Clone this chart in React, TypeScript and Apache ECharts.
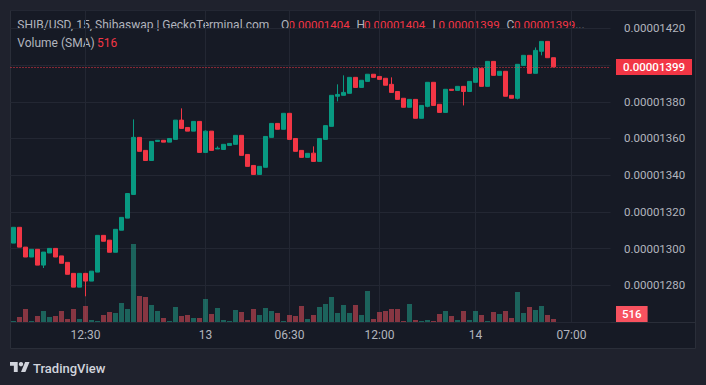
import React, { useEffect, useRef } from "react";
import * as echarts from "echarts";

// Prices in units of 1e-8 USD (0.00000001)
const opens = [
  1303, 1311.6, 1300.8, 1295.4, 1299.6, 1291, 1297.6, 1300.1, 1296, 1292.5,
  1286.5, 1279, 1286.5, 1282.3, 1287.2, 1307.2, 1304.6, 1298, 1310, 1316.6,
  1329.5, 1360.6, 1353.5, 1348, 1358.4, 1359, 1358, 1359.5, 1370, 1366,
  1364, 1369.3, 1352.4, 1364, 1354.3, 1354, 1356.2, 1356.8, 1361.7, 1351.3,
  1345.3, 1340.4, 1344.3, 1360.6, 1368.2, 1365, 1373.7, 1360, 1353.5, 1349.7,
  1352, 1347.5, 1359.5, 1366.6, 1383, 1383.5, 1384.6, 1393.3, 1387.8, 1391.1,
  1395, 1393.8, 1392.8, 1389.5, 1385.6, 1381.9, 1377, 1381.3, 1371, 1377.5,
  1390.6, 1378.6, 1374.2, 1386.8, 1386.2, 1388.4, 1385.6, 1390.6, 1398.2, 1388.4,
  1402, 1394.4, 1396.6, 1383.5, 1381.9, 1399.8, 1405.3, 1395.5, 1407.5, 1412.9,
  1404,
];
const closes = [
  1311.6, 1300.8, 1295.4, 1299.6, 1291, 1298.1, 1300.1, 1295.4, 1292, 1286,
  1279, 1286.5, 1282.3, 1287.7, 1307.2, 1304, 1298, 1310.5, 1317, 1330,
  1360.6, 1353, 1348, 1358.4, 1359, 1358, 1360, 1370, 1365.5, 1364,
  1369.3, 1352.4, 1364, 1353.5, 1354.7, 1356.8, 1357.3, 1361.7, 1350.8, 1344.8,
  1340.4, 1344.8, 1361.1, 1368.2, 1365, 1373.7, 1359.5, 1353, 1349.7, 1351.9,
  1347.5, 1360, 1367, 1383.5, 1384, 1385.1, 1393.3, 1387.8, 1391.7, 1395,
  1393.3, 1392.2, 1389, 1385.1, 1381.3, 1377, 1381.3, 1371, 1378, 1390.6,
  1378, 1374.2, 1386.8, 1386.2, 1388.4, 1385.6, 1391.1, 1398.2, 1388.4, 1402,
  1394.4, 1396.6, 1383, 1381.9, 1400.4, 1405.3, 1395.5, 1408, 1412.9, 1404,
  1399,
];
const highs = [
  1311.6, 1311.6, 1300.8, 1299.6, 1299.6, 1298.1, 1300.1, 1300.1, 1296, 1292.5,
  1286.5, 1286.5, 1286.5, 1287.7, 1307.2, 1307.2, 1304.6, 1310.5, 1317, 1330,
  1370.4, 1360.6, 1353.5, 1358.4, 1359, 1359, 1360, 1370, 1376.4, 1366,
  1369.3, 1369.3, 1364.4, 1364, 1355.7, 1356.8, 1357.3, 1361.7, 1361.7, 1351.3,
  1345.3, 1344.8, 1361.1, 1368.2, 1368.2, 1373.7, 1373.7, 1360, 1353.5, 1351.9,
  1355.7, 1360, 1367, 1383.5, 1389.5, 1394.4, 1393.3, 1393.3, 1391.7, 1395,
  1395, 1393.8, 1392.8, 1393.3, 1385.6, 1381.9, 1381.3, 1381.3, 1378, 1390.6,
  1390.6, 1378.6, 1386.8, 1386.8, 1388.4, 1388.4, 1391.1, 1398.2, 1398.2, 1402,
  1402, 1396.6, 1396.6, 1383.5, 1400.4, 1405.3, 1405.3, 1409.6, 1412.9, 1412.9,
  1404,
];
const lows = [
  1303, 1300.8, 1295.4, 1295.4, 1291, 1289.4, 1297.6, 1295.4, 1292, 1286,
  1279, 1279, 1274, 1282.3, 1287.2, 1304, 1298, 1298, 1310, 1316.6,
  1329.5, 1353, 1348, 1348, 1358.4, 1358, 1358, 1359.5, 1365.5, 1364,
  1364, 1352.4, 1352.4, 1353.5, 1354.3, 1354, 1356.2, 1356.8, 1350.8, 1344.8,
  1340.4, 1340.4, 1344.3, 1360.6, 1365, 1365, 1359.5, 1353, 1349.7, 1349.7,
  1347.5, 1347.5, 1359.5, 1366.6, 1380.2, 1383.5, 1384.6, 1387.8, 1387.8, 1391.1,
  1393.3, 1392.2, 1389, 1385.1, 1381.3, 1377, 1377, 1371, 1371, 1377,
  1378, 1374.2, 1374.2, 1386.2, 1386.2, 1378, 1385.6, 1390.6, 1388.4, 1388.4,
  1394.4, 1394.4, 1383, 1381.9, 1381.3, 1399.8, 1395.5, 1395.5, 1405.3, 1404,
  1399,
];
const volumes = [
  170, 860, 2240, 170, 1030, 1890, 860, 1030, 1890, 520,
  2240, 520, 2750, 340, 170, 1200, 1720, 1550, 3270, 2240,
  13420, 4470, 4300, 2920, 1890, 690, 170, 2580, 1030, 1200,
  690, 690, 3960, 1380, 2410, 340, 170, 2060, 1720, 340,
  2240, 1200, 2410, 1890, 1550, 170, 1200, 1030, 2750, 520,
  1200, 2580, 3100, 4300, 1550, 2920, 1550, 2920, 1200, 5330,
  520, 1720, 1890, 2240, 2240, 170, 3100, 340, 170, 340,
  170, 1380, 1890, 1030, 340, 1890, 340, 1890, 1200, 170,
  1720, 1380, 1890, 690, 5160, 1550, 2580, 2060, 2750, 1200,
  516,
];

const slotCount = 100;
const categories = Array.from({ length: slotCount }, (_, i) => String(i));
const timeTickIndex = [12, 32, 46, 61, 77, 93];
const timeTickLabels = ["12:30", "13", "06:30", "12:00", "14", "07:00"];

const priceMin = 1260;
const priceMax = 1430;
const priceStep = 20;
const volumeMax = 17200;
const lastPrice = 1399;
const lastVolume = 516;

const titleText = "SHIB/USD, 15, Shibaswap | GeckoTerminal.com";
const ohlcKeys = ["O", "H", "L", "C"];
const ohlcValues = ["0.00001404", "0.00001404", "0.00001399", "0.00001399"];
const ohlcKeyX = [281, 356.5, 432.5, 506.5];
const ohlcValX = [288.5, 364, 438.5, 514];

const UP = "#089981";
const DOWN = "#f23645";
const VOL_UP = "rgba(34,171,148,0.5)";
const VOL_DOWN = "rgba(247,82,95,0.5)";
const GRID = "#232733";
const TEXT = "#b2b5be";
const OUTER = "#1f222d";
const PANEL = "#161a25";
const FONT = "Roboto";
const NUM_SIZE = 11.5;

const fmtPrice = (v: number) => (v / 1e8).toFixed(8);

export default function App() {
  const ref = useRef<HTMLDivElement>(null);

  useEffect(() => {
    if (!ref.current) return;
    const chart = echarts.init(ref.current, undefined, { renderer: "svg" });

    const candleData = opens.map((o, i) => [o, closes[i], lows[i], highs[i]]);
    const volumeData = volumes.map((v, i) => ({
      value: v,
      itemStyle: { color: closes[i] >= opens[i] ? VOL_UP : VOL_DOWN },
    }));

    const headerTexts: any[] = [
      {
        type: "text",
        x: 17.3,
        y: 25,
        style: { text: titleText, fill: TEXT, fontSize: 12, fontFamily: FONT, verticalAlign: "middle" },
      },
      {
        type: "text",
        x: 17.3,
        y: 42.5,
        style: { text: "Volume (SMA)", fill: TEXT, fontSize: 12, fontFamily: FONT, verticalAlign: "middle" },
      },
      {
        type: "text",
        x: 97,
        y: 42.5,
        style: { text: String(lastVolume), fill: DOWN, fontSize: 12, fontFamily: FONT, verticalAlign: "middle" },
      },
    ];
    ohlcKeys.forEach((k, i) => {
      headerTexts.push({
        type: "text",
        x: ohlcKeyX[i],
        y: 25,
        style: { text: k, fill: TEXT, fontSize: 12, fontFamily: FONT, verticalAlign: "middle" },
      });
      headerTexts.push({
        type: "text",
        x: ohlcValX[i],
        y: 25,
        style: {
          text: i === ohlcKeys.length - 1 ? `{v|${ohlcValues[i]}}{d|...}` : ohlcValues[i],
          fill: DOWN,
          fontSize: NUM_SIZE,
          fontFamily: FONT,
          verticalAlign: "middle",
          rich: {
            v: { fill: DOWN, fontSize: NUM_SIZE, fontFamily: FONT },
            d: { fill: TEXT, fontSize: 12, fontFamily: FONT },
          },
        },
      });
    });

    const option: any = {
      animation: false,
      backgroundColor: OUTER,
      textStyle: { fontFamily: FONT },
      grid: [
        { left: 10.5, top: 10, width: 600, height: 312 },
        { left: 10.5, top: 222, width: 600, height: 100 },
      ],
      xAxis: [
        {
          type: "category",
          gridIndex: 0,
          data: categories,
          boundaryGap: true,
          axisLine: { show: false },
          axisTick: { show: false },
          axisLabel: {
            interval: (i: number) => timeTickIndex.includes(i),
            formatter: (_v: string, i: number) => {
              const k = timeTickIndex.indexOf(i);
              return k >= 0 ? timeTickLabels[k] : "";
            },
            color: TEXT,
            fontSize: 12,
            fontFamily: FONT,
            margin: 7,
          },
          splitLine: {
            show: true,
            interval: (i: number) => timeTickIndex.includes(i),
            alignWithLabel: true,
            lineStyle: { color: GRID, width: 1 },
          },
        },
        { type: "category", gridIndex: 1, data: categories, show: false, boundaryGap: true },
      ],
      yAxis: [
        {
          type: "value",
          gridIndex: 0,
          position: "right",
          min: priceMin,
          max: priceMax,
          interval: priceStep,
          axisLine: { show: false },
          axisTick: { show: false },
          axisLabel: {
            // the label under the last-price tag is covered in the original
            formatter: (v: number) => (Math.abs(v - lastPrice) < 8 ? "" : fmtPrice(v)),
            color: TEXT,
            fontSize: NUM_SIZE,
            fontFamily: FONT,
            margin: 13.5,
            showMinLabel: false,
            showMaxLabel: false,
          },
          splitLine: { show: true, lineStyle: { color: GRID, width: 1 } },
        },
        {
          type: "value",
          gridIndex: 1,
          min: 0,
          max: volumeMax,
          show: false,
          splitLine: { show: false },
        },
      ],
      series: [
        {
          type: "bar",
          name: "Volume",
          xAxisIndex: 1,
          yAxisIndex: 1,
          data: volumeData,
          barWidth: 5,
          z: 1,
          markLine: {
            silent: true,
            symbol: ["none", "none"],
            lineStyle: { color: "rgba(0,0,0,0)", width: 0 },
            data: [{ yAxis: lastVolume }],
            label: {
              show: true,
              position: "end",
              distance: 5.5,
              formatter: String(lastVolume),
              color: "#ffffff",
              backgroundColor: "#f7525f",
              padding: [1, 6, 1, 6],
              fontSize: NUM_SIZE,
              lineHeight: 14,
              fontWeight: 500,
              fontFamily: FONT,
              offset: [0, -5],
            },
          },
        },
        {
          type: "candlestick",
          name: "SHIB/USD",
          xAxisIndex: 0,
          yAxisIndex: 0,
          data: candleData,
          barWidth: 4,
          z: 3,
          itemStyle: {
            color: UP,
            color0: DOWN,
            borderColor: UP,
            borderColor0: DOWN,
            borderWidth: 1,
          },
          markLine: {
            silent: true,
            symbol: ["none", "none"],
            data: [{ yAxis: lastPrice }],
            lineStyle: { color: DOWN, type: [1, 2], width: 1 },
            label: {
              show: true,
              position: "end",
              distance: 5.5,
              formatter: fmtPrice(lastPrice),
              color: "#ffffff",
              backgroundColor: DOWN,
              padding: [1, 7, 1, 7],
              fontSize: NUM_SIZE,
              lineHeight: 14,
              fontWeight: 500,
              fontFamily: FONT,
            },
          },
        },
      ],
      graphic: [
        {
          type: "rect",
          z: -10,
          silent: true,
          shape: { x: 10.5, y: 10.5, width: 685, height: 338 },
          style: { fill: PANEL, stroke: "#2a2e39", lineWidth: 1 },
        },
        {
          type: "line",
          silent: true,
          shape: { x1: 10.5, y1: 322.5, x2: 695.5, y2: 322.5 },
          style: { stroke: "#2a2e39", lineWidth: 1 },
        },
        ...headerTexts,
        {
          type: "group",
          x: 10,
          y: 359.8,
          scaleX: 0.55,
          scaleY: 0.55,
          silent: true,
          children: [
            {
              type: "polygon",
              shape: { points: [[14, 22], [7, 22], [7, 11], [0, 11], [0, 4], [14, 4]] },
              style: { fill: "#d1d4dc" },
            },
            {
              type: "polygon",
              shape: { points: [[28, 22], [20, 22], [27.5, 4], [35.5, 4]] },
              style: { fill: "#d1d4dc" },
            },
            { type: "circle", shape: { cx: 20, cy: 8, r: 4 }, style: { fill: "#d1d4dc" } },
          ],
        },
        {
          type: "text",
          x: 33,
          y: 368,
          style: {
            text: "TradingView",
            fill: "#d1d4dc",
            fontSize: 13,
            fontWeight: 500,
            fontFamily: FONT,
            verticalAlign: "middle",
          },
        },
      ],
    };

    chart.setOption(option);
    return () => chart.dispose();
  }, []);

  return (
    <div
      ref={ref}
      style={{ position: "fixed", left: 0, top: 0, width: 706, height: 385 }}
    />
  );
}
